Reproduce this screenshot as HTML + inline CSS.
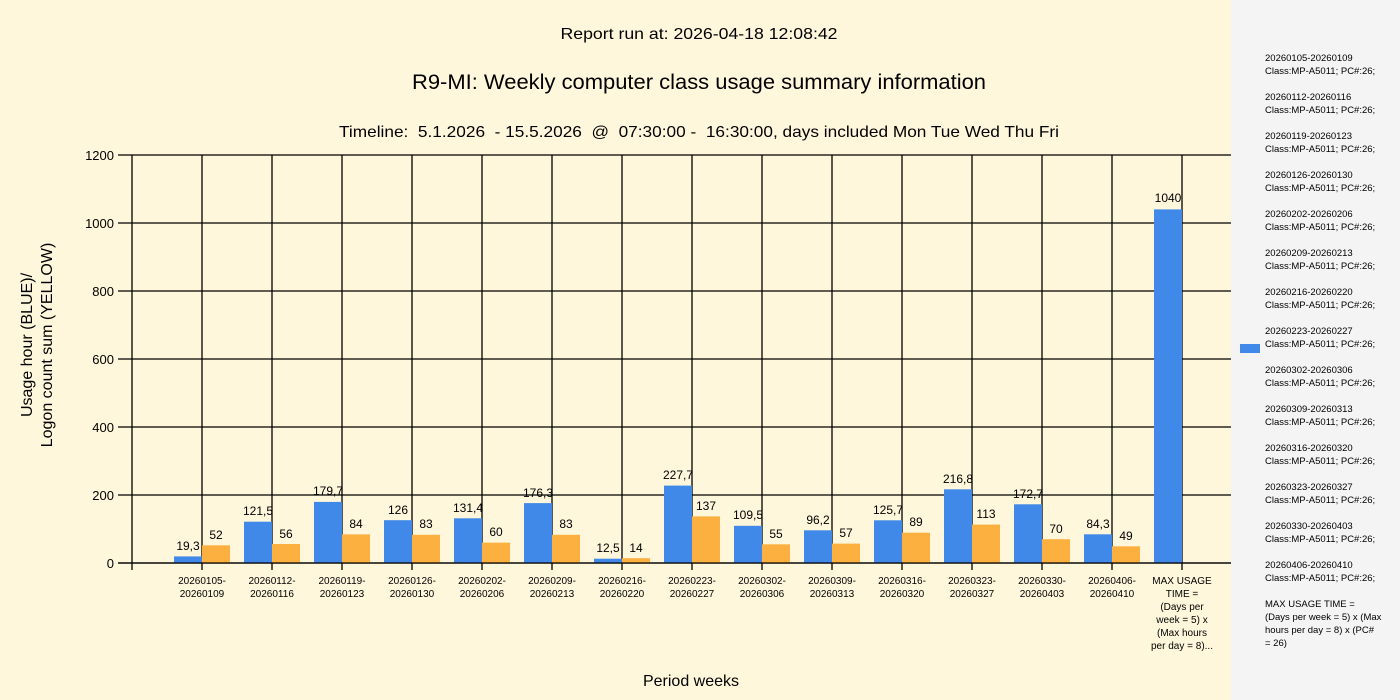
<!DOCTYPE html>
<html><head><meta charset="utf-8"><style>
html,body{margin:0;padding:0;background:#fff7dc;}
svg{display:block;font-family:"Liberation Sans",sans-serif;}
</style></head><body>
<svg width="1400" height="700" viewBox="0 0 1400 700" xmlns="http://www.w3.org/2000/svg">
<rect x="0" y="0" width="1400" height="700" fill="#fff7dc"/>
<rect x="1231" y="0" width="169" height="700" fill="#f4f4f4"/>
<g fill="#000" text-anchor="middle">
<text x="699" y="39" font-size="16" textLength="277" lengthAdjust="spacingAndGlyphs">Report run at: 2026-04-18 12:08:42</text>
<text x="699" y="89" font-size="21" textLength="574" lengthAdjust="spacingAndGlyphs">R9-MI: Weekly computer class usage summary information</text>
<text x="699" y="137" font-size="16" textLength="720" lengthAdjust="spacingAndGlyphs" xml:space="preserve">Timeline:  5.1.2026  - 15.5.2026  @  07:30:00 -  16:30:00, days included Mon Tue Wed Thu Fri</text>
<text x="691" y="686" font-size="16">Period weeks</text>
<text transform="translate(32,345) rotate(-90)" font-size="16">Usage hour (BLUE)/</text>
<text transform="translate(52,345) rotate(-90)" font-size="16">Logon count sum (YELLOW)</text>
</g>
<g stroke="#000" stroke-width="1.3">
<line x1="118" y1="155" x2="1231" y2="155"/>
<line x1="118" y1="223" x2="1231" y2="223"/>
<line x1="118" y1="291" x2="1231" y2="291"/>
<line x1="118" y1="359" x2="1231" y2="359"/>
<line x1="118" y1="427" x2="1231" y2="427"/>
<line x1="118" y1="495" x2="1231" y2="495"/>
<line x1="118" y1="563" x2="1231" y2="563"/>
<line x1="132" y1="155" x2="132" y2="570"/>
<line x1="202" y1="155" x2="202" y2="570"/>
<line x1="272" y1="155" x2="272" y2="570"/>
<line x1="342" y1="155" x2="342" y2="570"/>
<line x1="412" y1="155" x2="412" y2="570"/>
<line x1="482" y1="155" x2="482" y2="570"/>
<line x1="552" y1="155" x2="552" y2="570"/>
<line x1="622" y1="155" x2="622" y2="570"/>
<line x1="692" y1="155" x2="692" y2="570"/>
<line x1="762" y1="155" x2="762" y2="570"/>
<line x1="832" y1="155" x2="832" y2="570"/>
<line x1="902" y1="155" x2="902" y2="570"/>
<line x1="972" y1="155" x2="972" y2="570"/>
<line x1="1042" y1="155" x2="1042" y2="570"/>
<line x1="1112" y1="155" x2="1112" y2="570"/>
<line x1="1182" y1="155" x2="1182" y2="570"/>
</g>
<g font-size="13" text-anchor="end" fill="#000">
<text x="114" y="160">1200</text><text x="114" y="228">1000</text><text x="114" y="296">800</text>
<text x="114" y="364">600</text><text x="114" y="432">400</text><text x="114" y="500">200</text><text x="114" y="568">0</text>
</g>
<g fill="#4189e8">
<rect x="174" y="556.4" width="28" height="6.6"/>
<rect x="244" y="521.7" width="28" height="41.3"/>
<rect x="314" y="501.9" width="28" height="61.1"/>
<rect x="384" y="520.2" width="28" height="42.8"/>
<rect x="454" y="518.3" width="28" height="44.7"/>
<rect x="524" y="503.1" width="28" height="59.9"/>
<rect x="594" y="558.7" width="28" height="4.3"/>
<rect x="664" y="485.6" width="28" height="77.4"/>
<rect x="734" y="525.8" width="28" height="37.2"/>
<rect x="804" y="530.3" width="28" height="32.7"/>
<rect x="874" y="520.3" width="28" height="42.7"/>
<rect x="944" y="489.3" width="28" height="73.7"/>
<rect x="1014" y="504.3" width="28" height="58.7"/>
<rect x="1084" y="534.3" width="28" height="28.7"/>
<rect x="1154" y="209.4" width="28" height="353.6"/>
</g>
<g fill="#fbb040">
<rect x="202" y="545.3" width="28" height="17.7"/>
<rect x="272" y="544" width="28" height="19"/>
<rect x="342" y="534.4" width="28" height="28.6"/>
<rect x="412" y="534.8" width="28" height="28.2"/>
<rect x="482" y="542.6" width="28" height="20.4"/>
<rect x="552" y="534.8" width="28" height="28.2"/>
<rect x="622" y="558.2" width="28" height="4.8"/>
<rect x="692" y="516.4" width="28" height="46.6"/>
<rect x="762" y="544.3" width="28" height="18.7"/>
<rect x="832" y="543.6" width="28" height="19.4"/>
<rect x="902" y="532.7" width="28" height="30.3"/>
<rect x="972" y="524.6" width="28" height="38.4"/>
<rect x="1042" y="539.2" width="28" height="23.8"/>
<rect x="1112" y="546.3" width="28" height="16.7"/>
</g>
<g stroke="#000" stroke-width="1.3"><line x1="118" y1="563" x2="1231" y2="563"/></g>
<g font-size="12" text-anchor="middle" fill="#000">
<text x="188" y="550">19,3</text><text x="216" y="539">52</text>
<text x="258" y="515">121,5</text><text x="286" y="538">56</text>
<text x="328" y="495">179,7</text><text x="356" y="528">84</text>
<text x="398" y="514">126</text><text x="426" y="528">83</text>
<text x="468" y="512">131,4</text><text x="496" y="536">60</text>
<text x="538" y="497">176,3</text><text x="566" y="528">83</text>
<text x="608" y="552">12,5</text><text x="636" y="552">14</text>
<text x="678" y="479">227,7</text><text x="706" y="510">137</text>
<text x="748" y="519">109,5</text><text x="776" y="538">55</text>
<text x="818" y="524">96,2</text><text x="846" y="537">57</text>
<text x="888" y="514">125,7</text><text x="916" y="526">89</text>
<text x="958" y="483">216,8</text><text x="986" y="518">113</text>
<text x="1028" y="498">172,7</text><text x="1056" y="533">70</text>
<text x="1098" y="528">84,3</text><text x="1126" y="540">49</text>
<text x="1168" y="202">1040</text>
</g>
<g font-size="10" text-anchor="middle" fill="#000">
<text x="202" y="584">20260105-</text><text x="202" y="597">20260109</text>
<text x="272" y="584">20260112-</text><text x="272" y="597">20260116</text>
<text x="342" y="584">20260119-</text><text x="342" y="597">20260123</text>
<text x="412" y="584">20260126-</text><text x="412" y="597">20260130</text>
<text x="482" y="584">20260202-</text><text x="482" y="597">20260206</text>
<text x="552" y="584">20260209-</text><text x="552" y="597">20260213</text>
<text x="622" y="584">20260216-</text><text x="622" y="597">20260220</text>
<text x="692" y="584">20260223-</text><text x="692" y="597">20260227</text>
<text x="762" y="584">20260302-</text><text x="762" y="597">20260306</text>
<text x="832" y="584">20260309-</text><text x="832" y="597">20260313</text>
<text x="902" y="584">20260316-</text><text x="902" y="597">20260320</text>
<text x="972" y="584">20260323-</text><text x="972" y="597">20260327</text>
<text x="1042" y="584">20260330-</text><text x="1042" y="597">20260403</text>
<text x="1112" y="584">20260406-</text><text x="1112" y="597">20260410</text>
<text x="1182" y="584">MAX USAGE</text><text x="1182" y="597">TIME =</text>
<text x="1182" y="610">(Days per</text><text x="1182" y="623">week = 5) x</text>
<text x="1182" y="636">(Max hours</text><text x="1182" y="649">per day = 8)...</text>
</g>
<rect x="1240" y="344" width="20" height="9" fill="#4189e8"/>
<g font-size="9.5" fill="#000">
<text x="1265" y="61">20260105-20260109</text><text x="1265" y="74">Class:MP-A5011; PC#:26;</text>
<text x="1265" y="100">20260112-20260116</text><text x="1265" y="113">Class:MP-A5011; PC#:26;</text>
<text x="1265" y="139">20260119-20260123</text><text x="1265" y="152">Class:MP-A5011; PC#:26;</text>
<text x="1265" y="178">20260126-20260130</text><text x="1265" y="191">Class:MP-A5011; PC#:26;</text>
<text x="1265" y="217">20260202-20260206</text><text x="1265" y="230">Class:MP-A5011; PC#:26;</text>
<text x="1265" y="256">20260209-20260213</text><text x="1265" y="269">Class:MP-A5011; PC#:26;</text>
<text x="1265" y="295">20260216-20260220</text><text x="1265" y="308">Class:MP-A5011; PC#:26;</text>
<text x="1265" y="334">20260223-20260227</text><text x="1265" y="347">Class:MP-A5011; PC#:26;</text>
<text x="1265" y="373">20260302-20260306</text><text x="1265" y="386">Class:MP-A5011; PC#:26;</text>
<text x="1265" y="412">20260309-20260313</text><text x="1265" y="425">Class:MP-A5011; PC#:26;</text>
<text x="1265" y="451">20260316-20260320</text><text x="1265" y="464">Class:MP-A5011; PC#:26;</text>
<text x="1265" y="490">20260323-20260327</text><text x="1265" y="503">Class:MP-A5011; PC#:26;</text>
<text x="1265" y="529">20260330-20260403</text><text x="1265" y="542">Class:MP-A5011; PC#:26;</text>
<text x="1265" y="568">20260406-20260410</text><text x="1265" y="581">Class:MP-A5011; PC#:26;</text>
<text x="1265" y="607">MAX USAGE TIME =</text>
<text x="1265" y="620"> (Days per week = 5) x (Max</text>
<text x="1265" y="633">hours per day = 8) x (PC#</text>
<text x="1265" y="646">= 26)</text>
</g>
</svg>
</body></html>
